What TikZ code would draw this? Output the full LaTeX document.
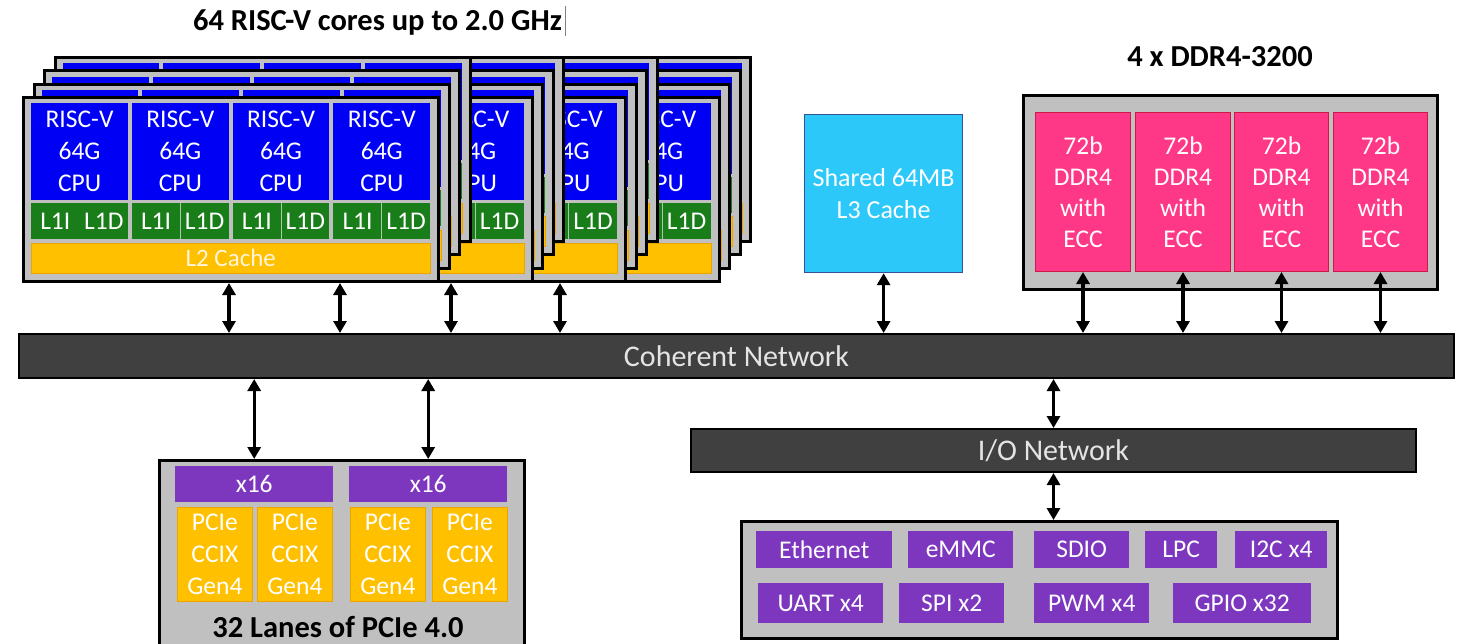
\documentclass[tikz,border=0pt]{standalone}
\usepackage{fontspec}
\setmainfont{Carlito}
\usetikzlibrary{arrows.meta,calc}

\definecolor{cpublue}{RGB}{0,0,245}
\definecolor{l1green}{RGB}{25,125,25}
\definecolor{gold}{RGB}{255,192,0}
\definecolor{goldedge}{RGB}{235,165,0}
\definecolor{boxgray}{RGB}{192,192,192}
\definecolor{sepgray}{RGB}{170,200,170}
\definecolor{bardark}{RGB}{64,64,64}
\definecolor{iopurple}{RGB}{125,55,190}
\definecolor{ddrpink}{RGB}{255,55,135}
\definecolor{ddredge}{RGB}{205,25,70}
\definecolor{l3cyan}{RGB}{45,200,250}
\definecolor{l3edge}{RGB}{55,80,150}
\definecolor{paletext}{RGB}{255,245,220}
\definecolor{bartext}{RGB}{228,228,228}

\tikzset{
  nwbox/.style={inner sep=0pt, anchor=north west},
  layerframe/.style={nwbox, fill=boxgray, draw=black, line width=3pt},
  container/.style={nwbox, fill=boxgray, draw=black, line width=3pt},
  cpu/.style={nwbox, fill=cpublue, text=white, align=center, font=\fontsize{25.5}{32}\selectfont},
  lone/.style={nwbox, fill=l1green},
  lonetxt/.style={inner sep=0pt, text=white, font=\fontsize{25.5}{32}\selectfont},
  ltwo/.style={nwbox, fill=gold, draw=goldedge, line width=0.6pt, text=paletext, font=\fontsize{25}{30}\selectfont},
  netbar/.style={nwbox, fill=bardark, draw=black, line width=2pt, text=bartext, font=\fontsize{30}{36}\selectfont},
  ttl/.style={font=\bfseries\fontsize{30.5}{36}\selectfont, inner sep=0pt, anchor=base},
  ddr/.style={nwbox, fill=ddrpink, draw=ddredge, line width=1pt, text=white, align=center, font=\fontsize{25.5}{31}\selectfont},
  lthree/.style={nwbox, fill=l3cyan, draw=l3edge, line width=1.2pt, text=white, align=center, font=\fontsize{26}{32}\selectfont},
  pur/.style={nwbox, fill=iopurple, text=white, font=\fontsize{25.5}{31}\selectfont},
  pcie/.style={nwbox, fill=gold, draw=goldedge, line width=0.8pt, text=white, align=center, font=\fontsize{25.5}{32}\selectfont},
  biarrow/.style={line width=3.2pt, {Triangle[length=12pt,width=13pt]}-{Triangle[length=12pt,width=13pt]}},
}

\begin{document}
\begin{tikzpicture}[x=1pt,y=-1pt]
\useasboundingbox (0,0) rectangle (1463,643);
\fill[white] (0,0) rectangle (1463,643);

% ---- title of cores
\node[ttl] (t1) at (377.5,30) {64 RISC-V cores up to 2.0 GHz};
\draw[gray, line width=0.8pt] ($(t1.base east)+(3,6)$) -- ($(t1.base east)+(3,-24)$);

% ---- four stacked clusters, each of four layers (text only where it can be seen)
\foreach \c in {3,2,1,0} {
  \foreach \l in {3,2,1,0} {
    \begin{scope}[shift={(\c*93.5+\l*10.5,-\l*13.3)}]
      \node[layerframe, minimum width=415pt, minimum height=184pt] (fr-\c-\l) at (22,96) {};
      \foreach \k in {0,1,2,3} {
        \pgfmathsetmacro\xx{31+\k*100.75}
        \node[cpu, minimum width=96.75pt, minimum height=97pt] (cpu-\c-\l-\k) at (\xx,103) {};
        \node[lone, minimum width=96.75pt, minimum height=36pt] (lone-\c-\l-\k) at (\xx,203) {};
        \ifnum\k>0
          \draw[sepgray, line width=0.8pt] (lone-\c-\l-\k.north) -- (lone-\c-\l-\k.south);
        \fi
      }
      \node[ltwo, minimum width=399pt, minimum height=30pt] (ltwo-\c-\l) at (31,243) {};
      \ifnum\l=0
        \ifnum\c=0
          \foreach \k in {0,1,2,3} {
            \node[cpu, fill=none, anchor=center] (cput-\c-\k) at (cpu-\c-0-\k.center) {RISC-V\\64G\\CPU};
            \node[lonetxt] (li-\c-\k) at ($(lone-\c-0-\k.west)!0.25!(lone-\c-0-\k.east)$) {L1I};
            \node[lonetxt] (ld-\c-\k) at ($(lone-\c-0-\k.west)!0.75!(lone-\c-0-\k.east)$) {L1D};
          }
          \node[ltwo, draw=none, fill=none, anchor=center] (ltwot-\c) at (ltwo-\c-0.center) {L2 Cache};
        \else
          \node[cpu, fill=none, anchor=center] (cput-\c-3) at (cpu-\c-0-3.center) {RISC-V\\64G\\CPU};
          \node[lonetxt] (ld-\c-3) at ($(lone-\c-0-3.west)!0.75!(lone-\c-0-3.east)$) {L1D};
        \fi
      \fi
    \end{scope}
  }
}

% ---- shared L3
\node[lthree, minimum width=158pt, minimum height=158pt] (l3) at (804,114) {Shared 64MB\\L3 Cache};

% ---- DDR
\node[ttl] (t2) at (1220,66) {4 x DDR4-3200};
\node[container, minimum width=414pt, minimum height=194pt] (ddrc) at (1022,94) {};
\node[ddr, minimum width=95pt, minimum height=159pt] (ddr1) at (1035,112) {72b\\DDR4\\with\\ECC};
\node[ddr, minimum width=95pt, minimum height=159pt] (ddr2) at (1135,112) {72b\\DDR4\\with\\ECC};
\node[ddr, minimum width=94pt, minimum height=159pt] (ddr3) at (1234,112) {72b\\DDR4\\with\\ECC};
\node[ddr, minimum width=94pt, minimum height=159pt] (ddr4) at (1333,112) {72b\\DDR4\\with\\ECC};

% ---- networks
\node[netbar, minimum width=1435pt, minimum height=44pt] (net) at (18,333) {Coherent Network};
\node[netbar, minimum width=725pt, minimum height=43pt] (ionet) at (690,428) {I/O Network};

% ---- PCIe block
\node[container, minimum width=365pt, minimum height=210pt] (pciec) at (158,459) {};
\node[pur, minimum width=158pt, minimum height=36pt] (x16a) at (175,466) {x16};
\node[pur, minimum width=158pt, minimum height=36pt] (x16b) at (349,466) {x16};
\node[pcie, minimum width=75pt, minimum height=94pt] (pc1) at (177,507) {PCIe\\CCIX\\Gen4};
\node[pcie, minimum width=75pt, minimum height=94pt] (pc2) at (257,507) {PCIe\\CCIX\\Gen4};
\node[pcie, minimum width=75pt, minimum height=94pt] (pc3) at (350,507) {PCIe\\CCIX\\Gen4};
\node[pcie, minimum width=75pt, minimum height=94pt] (pc4) at (432,507) {PCIe\\CCIX\\Gen4};
\node[ttl] (t3) at (338,637) {32 Lanes of PCIe 4.0};

% ---- I/O block
\node[container, minimum width=596pt, minimum height=117pt] (ioc) at (740,520) {};
\node[pur, minimum width=136pt, minimum height=37pt] (eth) at (756,531) {Ethernet};
\node[pur, minimum width=105pt, minimum height=37pt] (emmc) at (908,531) {eMMC};
\node[pur, minimum width=95pt, minimum height=37pt] (sdio) at (1034,531) {SDIO};
\node[pur, minimum width=72pt, minimum height=37pt] (lpc) at (1145,531) {LPC};
\node[pur, minimum width=92pt, minimum height=37pt] (i2c) at (1235,531) {I2C x4};
\node[pur, minimum width=125pt, minimum height=40pt] (uart) at (758,583) {UART x4};
\node[pur, minimum width=105pt, minimum height=40pt] (spi) at (899,583) {SPI x2};
\node[pur, minimum width=115pt, minimum height=40pt] (pwm) at (1034,583) {PWM x4};
\node[pur, minimum width=138pt, minimum height=40pt] (gpio) at (1173,583) {GPIO x32};

% ---- connectors
\coordinate (ax1) at (229,0);
\coordinate (ax2) at (340,0);
\coordinate (ax3) at (451,0);
\coordinate (ax4) at (560,0);
\draw[biarrow] (fr-0-0.south -| ax1) -- (net.north -| ax1);
\draw[biarrow] (fr-0-0.south -| ax2) -- (net.north -| ax2);
\draw[biarrow] (fr-1-0.south -| ax3) -- (net.north -| ax3);
\draw[biarrow] (fr-2-0.south -| ax4) -- (net.north -| ax4);
\draw[biarrow] (l3.south) -- (net.north -| l3.south);
\foreach \i in {1,2,3,4} {
  \draw[biarrow] (ddr\i.south) -- (net.north -| ddr\i.south);
}
\draw[biarrow] (net.south -| x16a.north) -- (pciec.north -| x16a.north);
\draw[biarrow] (net.south -| x16b.north) -- (pciec.north -| x16b.north);
\draw[biarrow] (net.south -| ionet.north) -- (ionet.north);
\draw[biarrow] (ionet.south) -- (ioc.north -| ionet.south);
\end{tikzpicture}
\end{document}
